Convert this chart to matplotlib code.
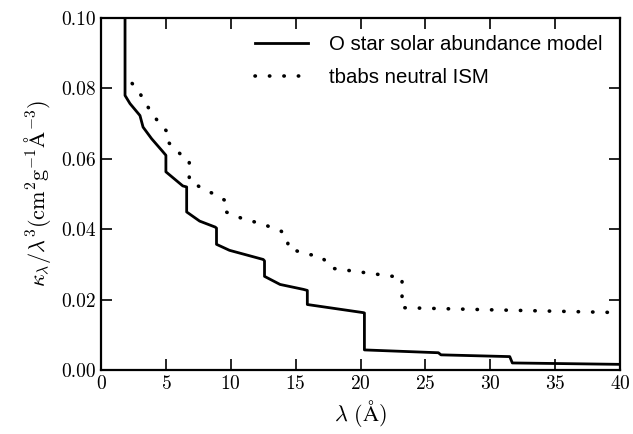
import matplotlib
matplotlib.use('Agg')
import matplotlib.pyplot as plt

# Curva do modelo de estrela O (abundancia solar)
lam_ostar = [1.85, 1.85, 2.23, 3.0, 3.24, 3.9, 4.7, 5.0, 5.0, 6.3, 6.6, 6.6, 7.6, 8.8, 8.9, 8.9,
             9.9, 12.5, 12.6, 12.6, 13.8, 15.6, 15.9, 15.9, 20.2, 20.3, 20.3, 26.0, 26.2,
             31.5, 31.7, 40.0]
kap_ostar = [0.100, 0.078, 0.0757, 0.0723, 0.069, 0.0657, 0.0623, 0.061, 0.0563, 0.0523,
             0.052, 0.0449, 0.0423, 0.0406, 0.0403, 0.0357, 0.034, 0.0314, 0.031, 0.0266,
             0.0243, 0.0229, 0.0226, 0.0186, 0.0163, 0.0162, 0.0057, 0.0049, 0.0043,
             0.0038, 0.002, 0.0016]

# Curva tbabs (ISM neutro)
lam_tbabs = [2.4, 2.85, 3.6, 4.5, 5.1, 5.1, 6.1, 6.8, 6.8, 8.1, 8.9, 9.5, 9.5, 10.9, 12.5,
             13.9, 14.4, 14.4, 15.9, 16.9, 17.3, 17.8, 22.5, 23.2, 23.2, 30.0, 40.0]
kap_tbabs = [0.0814, 0.0795, 0.0748, 0.070, 0.0677, 0.065, 0.0614, 0.0597, 0.0537, 0.051,
             0.0497, 0.0483, 0.0451, 0.043, 0.0414, 0.0394, 0.0371, 0.0346, 0.0329, 0.0323,
             0.031, 0.0289, 0.0266, 0.0263, 0.0177, 0.0171, 0.0163]

plt.rcParams['font.family'] = 'serif'
plt.rcParams['font.serif'] = ['cmr10']
plt.rcParams['mathtext.fontset'] = 'cm'
plt.rcParams['axes.formatter.use_mathtext'] = True

fig = plt.figure(figsize=(6.33, 4.34), dpi=100)
ax = fig.add_axes([0.1596, 0.1475, 0.8199, 0.811])

ax.plot(lam_ostar, kap_ostar, color='black', lw=2.0, label='O star solar abundance model')
ax.plot(lam_tbabs, kap_tbabs, color='black', lw=2.6, linestyle=(0, (0.1, 3.9)),
        dash_capstyle='round', label='tbabs neutral ISM')

ax.set_xlim(0, 40)
ax.set_ylim(0, 0.10)
ax.set_xticks([0, 5, 10, 15, 20, 25, 30, 35, 40])
ax.set_yticks([0.00, 0.02, 0.04, 0.06, 0.08, 0.10])
ax.set_yticklabels(['0.00', '0.02', '0.04', '0.06', '0.08', '0.10'])
ax.tick_params(direction='in', length=8, width=1.2, top=True, right=True, labelsize=14)
for s in ax.spines.values():
    s.set_linewidth(1.6)

ax.set_xlabel(r'$\lambda\ (\mathrm{\AA})$', fontsize=16, labelpad=4)
ax.set_ylabel(r'$\kappa_\lambda/\lambda^3(\mathrm{cm^2g^{-1}\AA^{-3}})$', fontsize=16, labelpad=6)

ax.legend(loc='upper right', frameon=False, prop={'family': 'Liberation Sans', 'size': 14.7},
          handlelength=2.6, handletextpad=1.05, borderaxespad=0.45, labelspacing=0.67)

plt.savefig('out.png', dpi=100)
